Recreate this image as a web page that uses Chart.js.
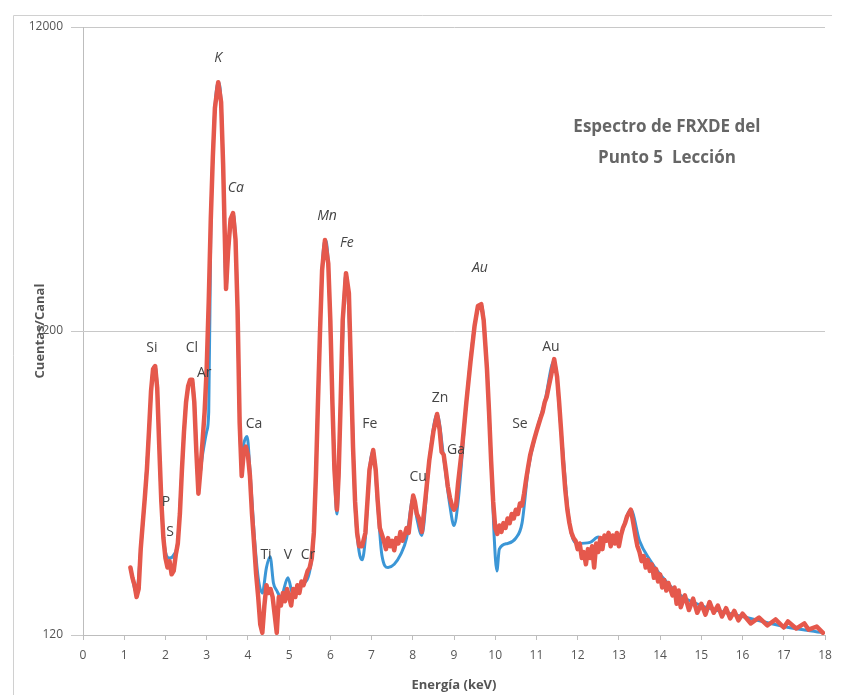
<!DOCTYPE html>
<html>
<head>
<meta charset="utf-8">
<script src="https://cdn.jsdelivr.net/npm/chart.js@4.4.1/dist/chart.umd.min.js"></script>
<style>
  html, body { margin: 0; padding: 0; background: #ffffff; }
  #espectro { display: block; }
</style>
</head>
<body>
<canvas id="espectro" width="852" height="695"></canvas>
<script>
// Espectro medido (rojo): energía en keV y cuentas por canal
const energiaRoja = [
  1.15, 1.2, 1.25, 1.3, 1.35, 1.4, 1.45, 1.5, 1.55, 1.6,
  1.65, 1.7, 1.75, 1.8, 1.85, 1.9, 1.95, 2.0, 2.05, 2.1,
  2.15, 2.2, 2.25, 2.3, 2.35, 2.4, 2.45, 2.5, 2.55, 2.6,
  2.65, 2.7, 2.75, 2.8, 2.85, 2.9, 2.95, 3.0, 3.05, 3.1,
  3.15, 3.2, 3.28, 3.35, 3.4, 3.47, 3.52, 3.58, 3.64, 3.7,
  3.75, 3.8, 3.85, 3.9, 3.95, 4.0, 4.05, 4.1, 4.15, 4.2,
  4.25, 4.3, 4.35, 4.4, 4.45, 4.5, 4.55, 4.6, 4.65, 4.7,
  4.75, 4.8, 4.85, 4.9, 4.95, 5.0, 5.05, 5.1, 5.15, 5.2,
  5.25, 5.3, 5.35, 5.4, 5.45, 5.5, 5.55, 5.6, 5.65, 5.7,
  5.75, 5.8, 5.87, 5.95, 6.0, 6.05, 6.1, 6.16, 6.2, 6.25,
  6.3, 6.38, 6.45, 6.5, 6.55, 6.6, 6.65, 6.7, 6.77, 6.85,
  6.9, 6.95, 7.04, 7.1, 7.15, 7.2, 7.28, 7.35, 7.4, 7.45,
  7.5, 7.55, 7.6, 7.65, 7.7, 7.75, 7.8, 7.85, 7.9, 7.95,
  8.01, 8.05, 8.1, 8.15, 8.22, 8.3, 8.4, 8.5, 8.59, 8.65,
  8.7, 8.75, 8.8, 8.85, 8.9, 8.95, 9.0, 9.05, 9.1, 9.2,
  9.3, 9.4, 9.5, 9.58, 9.66, 9.72, 9.8, 9.85, 9.9, 9.95,
  10.0, 10.05, 10.1, 10.15, 10.2, 10.25, 10.3, 10.35, 10.4, 10.45,
  10.5, 10.55, 10.6, 10.65, 10.7, 10.75, 10.8, 10.85, 10.9, 10.95,
  11.0, 11.05, 11.1, 11.15, 11.2, 11.25, 11.3, 11.35, 11.43, 11.5,
  11.55, 11.6, 11.65, 11.7, 11.75, 11.8, 11.85, 11.9, 11.95, 12.0,
  12.05, 12.1, 12.15, 12.2, 12.25, 12.3, 12.35, 12.4, 12.45, 12.5,
  12.55, 12.6, 12.65, 12.7, 12.75, 12.8, 12.85, 12.9, 12.95, 13.0,
  13.05, 13.1, 13.15, 13.2, 13.29, 13.35, 13.4, 13.45, 13.5, 13.55,
  13.6, 13.65, 13.7, 13.75, 13.8, 13.85, 13.9, 13.95, 14.0, 14.05,
  14.1, 14.15, 14.2, 14.3, 14.35, 14.4, 14.45, 14.5, 14.6, 14.7,
  14.8, 14.9, 15.0, 15.1, 15.2, 15.3, 15.4, 15.5, 15.6, 15.7,
  15.8, 15.9, 16.0, 16.2, 16.4, 16.6, 16.8, 17.0, 17.1, 17.3,
  17.5, 17.6, 17.8, 17.95
];
const cuentasRoja = [
  200, 185, 175, 160, 170, 230, 280, 340, 420, 560,
  760, 900, 920, 780, 500, 330, 250, 215, 200, 210,
  190, 195, 220, 240, 300, 420, 560, 700, 790, 830,
  830, 700, 480, 350, 420, 520, 650, 900, 1500, 2800,
  4500, 6500, 7900, 6800, 4200, 1650, 2200, 2800, 2930, 2400,
  1400, 600, 400, 480, 500, 470, 400, 300, 240, 190,
  160, 130, 122, 150, 175, 165, 170, 160, 140, 122,
  160, 150, 165, 155, 170, 160, 150, 170, 160, 175,
  165, 180, 175, 185, 195, 200, 215, 260, 400, 700,
  1200, 1900, 2390, 2000, 1300, 700, 420, 310, 400, 700,
  1300, 1860, 1600, 900, 500, 330, 260, 235, 235, 260,
  330, 420, 487, 420, 330, 270, 250, 230, 250, 235,
  245, 228, 250, 240, 262, 245, 255, 270, 260, 300,
  345, 330, 300, 290, 262, 330, 450, 560, 640, 570,
  480, 470, 420, 370, 340, 320, 310, 320, 380, 500,
  700, 950, 1250, 1450, 1470, 1300, 900, 650, 450, 330,
  270, 258, 275, 262, 280, 270, 290, 280, 300, 290,
  310, 300, 325, 320, 350, 390, 430, 470, 500, 530,
  560, 590, 620, 650, 700, 730, 790, 850, 970, 850,
  700, 560, 440, 360, 310, 280, 260, 250, 245, 230,
  240, 215, 225, 205, 230, 215, 235, 200, 240, 225,
  250, 230, 255, 245, 260, 235, 255, 240, 260, 235,
  255, 270, 280, 295, 310, 280, 255, 235, 225, 210,
  218, 200, 212, 195, 205, 185, 198, 180, 190, 172,
  182, 168, 178, 162, 172, 152, 168, 148, 162, 145,
  158, 142, 152, 140, 154, 142, 150, 138, 147, 136,
  144, 134, 141, 131, 137, 129, 135, 127, 133, 126,
  131, 125, 128, 122
];

// Ajuste suavizado (azul)
const energiaAzul = [
  1.15, 1.3, 1.4, 1.5, 1.6, 1.7, 1.75, 1.8, 1.9, 2.0,
  2.1, 2.2, 2.3, 2.4, 2.5, 2.6, 2.65, 2.7, 2.8, 2.9,
  3.0, 3.05, 3.1, 3.15, 3.2, 3.28, 3.35, 3.4, 3.47, 3.52,
  3.64, 3.7, 3.75, 3.8, 3.85, 3.9, 3.98, 4.05, 4.15, 4.25,
  4.35, 4.45, 4.54, 4.62, 4.7, 4.8, 4.97, 5.1, 5.3, 5.5,
  5.6, 5.7, 5.8, 5.87, 5.95, 6.05, 6.16, 6.25, 6.38, 6.5,
  6.6, 6.7, 6.77, 6.85, 6.95, 7.04, 7.15, 7.25, 7.4, 7.55,
  7.7, 7.85, 8.01, 8.1, 8.22, 8.4, 8.59, 8.75, 8.9, 9.0,
  9.1, 9.3, 9.5, 9.66, 9.8, 9.9, 9.97, 10.04, 10.1, 10.3,
  10.5, 10.65, 10.8, 11.0, 11.2, 11.43, 11.6, 11.8, 12.0, 12.3,
  12.5, 12.7, 13.0, 13.29, 13.5, 13.75, 14.0, 14.5, 15.0, 16.0,
  17.0, 17.95
];
const cuentasAzul = [
  200, 165, 230, 340, 560, 900, 920, 780, 330, 225,
  215, 220, 245, 420, 700, 820, 830, 700, 380, 470,
  560, 650, 2600, 4500, 6500, 7900, 6800, 4200, 1650, 2200,
  2930, 2400, 1400, 600, 450, 510, 540, 420, 260, 185,
  165, 200, 217, 178, 168, 160, 185, 162, 175, 195,
  260, 700, 1900, 2390, 2000, 700, 300, 700, 1860, 900,
  320, 225, 212, 250, 420, 487, 320, 220, 200, 205,
  220, 250, 340, 290, 255, 450, 640, 460, 320, 275,
  330, 700, 1250, 1470, 900, 450, 260, 195, 230, 240,
  250, 280, 420, 560, 700, 960, 560, 280, 240, 242,
  252, 245, 250, 310, 245, 212, 190, 162, 150, 138,
  128, 122
];

// Marcas de ticks
const ticksY = [120, 1200, 12000];

// Identificación de picos: elemento, energía (keV), cuentas, cursiva
const elementos = ['K', 'Ca', 'Mn', 'Fe', 'Au', 'Si', 'Cl', 'Ar', 'Ca', 'P', 'S', 'Ti', 'V', 'Cr', 'Fe', 'Zn', 'Ga', 'Cu', 'Au', 'Se'];
const energiaEtiqueta = [3.28, 3.71, 5.92, 6.40, 9.63, 1.67, 2.64, 2.94, 4.15, 2.01, 2.11, 4.44, 4.97, 5.46, 6.96, 8.66, 9.05, 8.13, 11.35, 10.60];
const cuentasEtiqueta = [9490, 3540, 2870, 2340, 1933, 1055, 1055, 873, 593, 329, 262, 220, 220, 220, 593, 723, 487, 397, 1064, 593];
const cursiva = [true, true, true, true, true, false, false, false, false, false, false, false, false, false, false, false, false, false, false, false];

const titulo = ['Espectro de FRXDE del', 'Punto 5  Lección'];

function puntos(xs, ys) {
    return xs.map((x, i) => ({ x: x, y: ys[i] }));
}

// Marco exterior, título, etiquetas de picos y título del eje Y
const decoracion = {
    id: 'decoracion',
    beforeDraw(chart) {
        const ctx = chart.ctx;
        ctx.save();
        ctx.strokeStyle = '#d0d0d0';
        ctx.lineWidth = 1;
        ctx.beginPath();
        ctx.moveTo(13.5, 695);
        ctx.lineTo(13.5, 15.5);
        ctx.lineTo(832, 15.5);
        ctx.stroke();
        ctx.restore();
    },
    afterDatasetsDraw(chart) {
        const ctx = chart.ctx;
        const sx = chart.scales.x;
        const sy = chart.scales.y;
        const area = chart.chartArea;
        ctx.save();
        ctx.textAlign = 'center';
        ctx.textBaseline = 'middle';
        ctx.fillStyle = '#444';
        for (let i = 0; i < elementos.length; i++) {
            ctx.font = (cursiva[i] ? 'italic ' : '') + '14px "Open Sans", sans-serif';
            ctx.fillText(elementos[i], sx.getPixelForValue(energiaEtiqueta[i]), sy.getPixelForValue(cuentasEtiqueta[i]));
        }
        // Título dentro del área
        ctx.fillStyle = '#666';
        ctx.font = 'bold 17px "Open Sans", sans-serif';
        const cx = area.left + (area.right - area.left) * 0.787;
        ctx.fillText(titulo[0], cx, area.top + 100);
        ctx.fillText(titulo[1], cx, area.top + 131);
        // Título del eje Y (se superpone al tick como en el original)
        ctx.translate(40, (area.top + area.bottom) / 2);
        ctx.rotate(-Math.PI / 2);
        ctx.fillStyle = '#555';
        ctx.font = 'bold 13px "Open Sans", sans-serif';
        ctx.fillText('Cuentas/Canal', 0, 0);
        ctx.restore();
    }
};

const ctx = document.getElementById('espectro').getContext('2d');
new Chart(ctx, {
    type: 'line',
    data: {
        datasets: [{
            label: 'Rojo',
            data: puntos(energiaRoja, cuentasRoja),
            borderColor: '#e5584c',
            borderWidth: 4.5,
            borderJoinStyle: 'round',
            borderCapStyle: 'round',
            pointRadius: 0,
            tension: 0,
            order: 1
        }, {
            label: 'Azul',
            data: puntos(energiaAzul, cuentasAzul),
            borderColor: '#3b96d6',
            borderWidth: 3,
            borderJoinStyle: 'round',
            pointRadius: 0,
            cubicInterpolationMode: 'monotone',
            order: 2
        }]
    },
    options: {
        responsive: false,
        animation: false,
        parsing: false,
        layout: { padding: { left: 13, top: 27, right: 27, bottom: 0 } },
        plugins: {
            legend: { display: false },
            tooltip: { enabled: false }
        },
        scales: {
            x: {
                type: 'linear',
                min: 0,
                max: 18,
                ticks: {
                    stepSize: 1,
                    padding: 8,
                    color: '#555',
                    font: { family: '"Open Sans", sans-serif', size: 12 }
                },
                grid: { drawOnChartArea: false, drawTicks: true, tickLength: 5, color: '#bdbdbd' },
                border: { color: '#bdbdbd' },
                title: {
                    display: true,
                    text: 'Energía (keV)',
                    color: '#555',
                    padding: { top: 0, bottom: 2 },
                    font: { family: '"Open Sans", sans-serif', size: 13, weight: 'bold' }
                },
                afterFit(scale) { scale.height = 60; }
            },
            y: {
                type: 'logarithmic',
                min: 120,
                max: 12000,
                afterBuildTicks(scale) {
                    scale.ticks = ticksY.map(v => ({ value: v }));
                },
                ticks: {
                    padding: 8,
                    color: '#555',
                    font: { family: '"Open Sans", sans-serif', size: 12 },
                    callback: v => String(v)
                },
                grid: { color: '#c8c8c8', tickLength: 12 },
                border: { color: '#bdbdbd' },
                afterFit(scale) { scale.width = 70; }
            }
        }
    },
    plugins: [decoracion]
});
</script>
</body>
</html>
